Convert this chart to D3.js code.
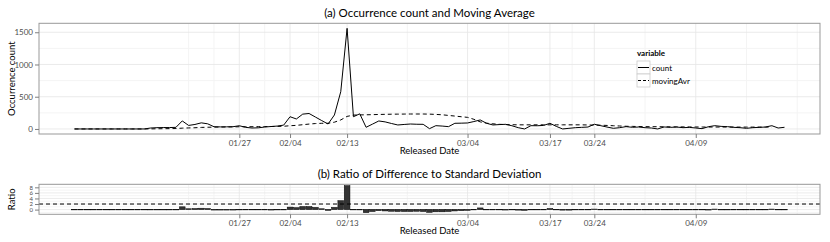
<!DOCTYPE html>
<html>
<head>
<meta charset="utf-8">
<script src="https://cdnjs.cloudflare.com/ajax/libs/d3/7.8.5/d3.min.js"></script>
<style>
  body { margin: 0; background: #fff; }
  svg { display: block; font-family: Lato, "Liberation Sans", sans-serif; }
</style>
</head>
<body>
<div id="chart"></div>
<script>
// daily series, first value is 01/01
var firstDay = "2013-01-01";

var counts = [0,0,0,0,0,0,0,0,0,0,0,0,15,20,22,22,25,125,55,70,95,80,
  35,32,33,35,50,25,15,18,30,38,45,60,190,155,230,240,185,130,77,217,578,1561,190,235,
  26,75,124,110,85,62,70,77,73,72,5,51,45,36,88,90,93,115,140,88,62,68,72,50,20,0,
  51,50,55,88,40,0,10,20,25,30,73,51,30,10,20,36,26,30,20,15,0,31,25,30,20,25,
  15,5,35,51,40,36,25,20,10,20,25,30,51,15,26];

var movingAvr = [0,0,0,0,0,0,0,0,0,0,0,0,1,3,4,5,7,13,16,19,24,27,
  28,30,31,32,34,35,35,36,37,38,40,42,50,56,66,76,84,88,88,105,140,195,215,218,
  220,222,225,227,229,230,231,232,232,232,230,226,220,210,200,190,180,150,110,90,80,72,
  68,66,64,64,64,64,64,64,64,64,64,64,64,62,60,58,55,50,46,42,40,38,36,35,35,34,33,32,
  32,31,31,30,30,30,30,30,30,29,29,29,29,29,29];

var ratio = [0,0,0,0,0,0,0,0,0,0,0,0,0.1,0.1,0.1,0.1,0.1,1.0,0.3,0.4,0.5,0.4,
  0.05,0.05,0.05,0.05,0.1,-0.1,-0.2,-0.1,-0.05,0.05,0.1,0.1,0.9,0.7,1.1,1.1,0.8,0.3,-0.4,0.8,3.2,8.6,-0.2,0.1,
  -1.2,-0.8,-0.5,-0.6,-0.7,-0.8,-0.8,-0.8,-0.7,-0.8,-1.1,-0.9,-0.9,-0.8,-0.6,-0.5,-0.4,-0.2,0.6,0.0,-0.1,-0.1,
  0.05,-0.1,-0.3,-0.4,-0.1,-0.1,0.0,0.4,-0.1,-0.3,-0.3,-0.2,-0.2,-0.2,0.2,0.0,-0.1,-0.2,-0.1,0.0,-0.1,0.0,
  -0.1,-0.1,-0.2,0.0,-0.05,0.0,-0.1,-0.05,-0.1,-0.2,0.05,0.2,0.1,0.1,0.0,-0.05,-0.1,-0.05,0.0,0.0,0.2,-0.1,0.0];

var dateTicks = ["2013-01-27","2013-02-04","2013-02-13","2013-03-04","2013-03-17","2013-03-24","2013-04-09"];
var countTicks = [0, 500, 1000, 1500];
var ratioTicks = [0, 2, 4, 6, 8];
var ratioLine = 2;

var W = 830, H = 242;
var left = 39, right = 820;
var top1 = 23.3, bot1 = 134;
var top2 = 184.3, bot2 = 214.3;

var parse = d3.utcParse("%Y-%m-%d");
var fmt = d3.utcFormat("%m/%d");
var day0 = parse(firstDay);
var data = counts.map(function(c, i) {
  return { date: d3.utcDay.offset(day0, i), count: c, avg: movingAvr[i], ratio: ratio[i] };
});
var ticks = dateTicks.map(parse);

var svg = d3.select("#chart").append("svg")
  .attr("width", W).attr("height", H);

// x scale shared, 5% padding like ggplot
var ext = d3.extent(data, function(d) { return d.date; });
var padMs = (ext[1] - ext[0]) * 0.05;
var x = d3.scaleUtc()
  .domain([new Date(+ext[0] - padMs), new Date(+ext[1] + padMs)])
  .range([left, right]);

var cmax = d3.max(counts);
var y1 = d3.scaleLinear().domain([-cmax * 0.05, cmax * 1.05]).range([bot1, top1]);
var rmin = d3.min(ratio), rmax = d3.max(ratio);
var rpad = (rmax - rmin) * 0.05;
var y2 = d3.scaleLinear().domain([rmin - rpad, rmax + rpad]).range([bot2, top2]);

// minor breaks: midpoints, plus one step outside each end
function minorDates(t) {
  var b = t.slice();
  b.unshift(new Date(2 * b[0] - b[1]));
  b.push(new Date(2 * b[b.length - 1] - b[b.length - 2]));
  var m = [];
  for (var i = 0; i < b.length - 1; i++) m.push(new Date((+b[i] + +b[i + 1]) / 2));
  return m.concat([b[0], b[b.length - 1]]).filter(function(d) { return d > x.domain()[0] && d < x.domain()[1]; });
}
function minorNums(t, sc) {
  var b = t.slice();
  b.unshift(2 * b[0] - b[1]);
  b.push(2 * b[b.length - 1] - b[b.length - 2]);
  var m = [];
  for (var i = 0; i < b.length - 1; i++) m.push((b[i] + b[i + 1]) / 2);
  var dm = sc.domain();
  return m.filter(function(v) { return v > dm[0] && v < dm[1]; });
}

function panel(y, yt, pTop, pBot, title, ytitle, yFont) {
  var g = svg.append("g");
  g.append("rect").attr("x", left).attr("y", pTop)
    .attr("width", right - left).attr("height", pBot - pTop).attr("fill", "#fff");

  // grid
  g.selectAll(".hmin").data(minorNums(yt, y)).enter().append("line")
    .attr("x1", left).attr("x2", right)
    .attr("y1", function(d) { return y(d); }).attr("y2", function(d) { return y(d); })
    .attr("stroke", "#f4f4f4").attr("stroke-width", 1);
  g.selectAll(".vmin").data(minorDates(ticks)).enter().append("line")
    .attr("y1", pTop).attr("y2", pBot)
    .attr("x1", function(d) { return x(d); }).attr("x2", function(d) { return x(d); })
    .attr("stroke", "#f4f4f4").attr("stroke-width", 1);
  g.selectAll(".hmaj").data(yt).enter().append("line")
    .attr("x1", left).attr("x2", right)
    .attr("y1", function(d) { return y(d); }).attr("y2", function(d) { return y(d); })
    .attr("stroke", "#e6e6e6").attr("stroke-width", 0.8);
  g.selectAll(".vmaj").data(ticks).enter().append("line")
    .attr("y1", pTop).attr("y2", pBot)
    .attr("x1", function(d) { return x(d); }).attr("x2", function(d) { return x(d); })
    .attr("stroke", "#e6e6e6").attr("stroke-width", 0.8);

  // axes
  var ax = svg.append("g").attr("transform", "translate(0," + pBot + ")")
    .call(d3.axisBottom(x).tickValues(ticks).tickFormat(fmt).tickSize(4).tickPadding(2));
  var ay = svg.append("g").attr("transform", "translate(" + left + ",0)")
    .call(d3.axisLeft(y).tickValues(yt).tickFormat(d3.format("d")).tickSize(4).tickPadding(2));
  [ax, ay].forEach(function(a) {
    a.select(".domain").remove();
    a.selectAll(".tick line").attr("stroke", "#7f7f7f");
    a.selectAll(".tick text").attr("fill", "#4d4d4d")
      .style("font-family", "Lato, sans-serif").style("font-size", "8px");
  });
  ay.selectAll(".tick text").style("font-size", yFont);

  svg.append("text").attr("x", (left + right) / 2).attr("y", pTop - 6.5)
    .attr("text-anchor", "middle").style("font-size", "11.5px").text(title);
  svg.append("text").attr("x", (left + right) / 2).attr("y", pBot + 20)
    .attr("text-anchor", "middle").style("font-size", "9.5px").text("Released Date");
  svg.append("text")
    .attr("transform", "translate(15," + ((pTop + pBot) / 2) + ") rotate(-90)")
    .attr("text-anchor", "middle").style("font-size", "9.5px").text(ytitle);
  return g;
}

var g1 = panel(y1, countTicks, top1, bot1, "(a) Occurrence count and Moving Average", "Occurrence count", "8px");

var countLine = d3.line()
  .x(function(d) { return x(d.date); })
  .y(function(d) { return y1(d.count); });
var avgLine = d3.line()
  .x(function(d) { return x(d.date); })
  .y(function(d) { return y1(d.avg); });

g1.append("path").datum(data).attr("d", countLine)
  .attr("fill", "none").attr("stroke", "#000").attr("stroke-width", 1);
g1.append("path").datum(data).attr("d", avgLine)
  .attr("fill", "none").attr("stroke", "#000").attr("stroke-width", 1)
  .attr("stroke-dasharray", "4,3");

g1.append("rect").attr("x", left).attr("y", top1)
  .attr("width", right - left).attr("height", bot1 - top1)
  .attr("fill", "none").attr("stroke", "#999").attr("stroke-width", 1);

// legend
var lg = svg.append("g").attr("transform", "translate(637,50)");
lg.append("text").attr("x", 0).attr("y", 6).style("font-size", "8px")
  .style("font-weight", "bold").text("variable");
var keys = [{ name: "count", dash: null }, { name: "movingAvr", dash: "3,2" }];
keys.forEach(function(k, i) {
  var ky = 11 + i * 13;
  lg.append("rect").attr("x", 0).attr("y", ky).attr("width", 13).attr("height", 13)
    .attr("fill", "#fff").attr("stroke", "#ccc").attr("stroke-width", 0.8);
  lg.append("line").attr("x1", 1).attr("x2", 12).attr("y1", ky + 6.5).attr("y2", ky + 6.5)
    .attr("stroke", "#000").attr("stroke-width", 1)
    .attr("stroke-dasharray", k.dash);
  lg.append("text").attr("x", 15).attr("y", ky + 9.5).style("font-size", "8px").text(k.name);
});

var g2 = panel(y2, ratioTicks, top2, bot2, "(b) Ratio of Difference to Standard Deviation", "Ratio", "6px");

var bw = x(d3.utcDay.offset(day0, 1)) - x(day0);
g2.selectAll(".bar").data(data).enter().append("rect")
  .attr("class", "bar")
  .attr("x", function(d) { return x(d.date) - bw * 0.45; })
  .attr("width", bw * 0.9)
  .attr("y", function(d) { return d.ratio > 0 ? y2(d.ratio) : y2(0) - 0.3; })
  .attr("height", function(d) { return Math.max(0.6, Math.abs(y2(d.ratio) - y2(0))); })
  .attr("fill", "#333").attr("stroke", "#000").attr("stroke-width", 0.5);

g2.append("line").attr("x1", left).attr("x2", right)
  .attr("y1", y2(ratioLine)).attr("y2", y2(ratioLine))
  .attr("stroke", "#000").attr("stroke-width", 1).attr("stroke-dasharray", "4,3");

g2.append("rect").attr("x", left).attr("y", top2)
  .attr("width", right - left).attr("height", bot2 - top2)
  .attr("fill", "none").attr("stroke", "#999").attr("stroke-width", 1);
</script>
</body>
</html>
